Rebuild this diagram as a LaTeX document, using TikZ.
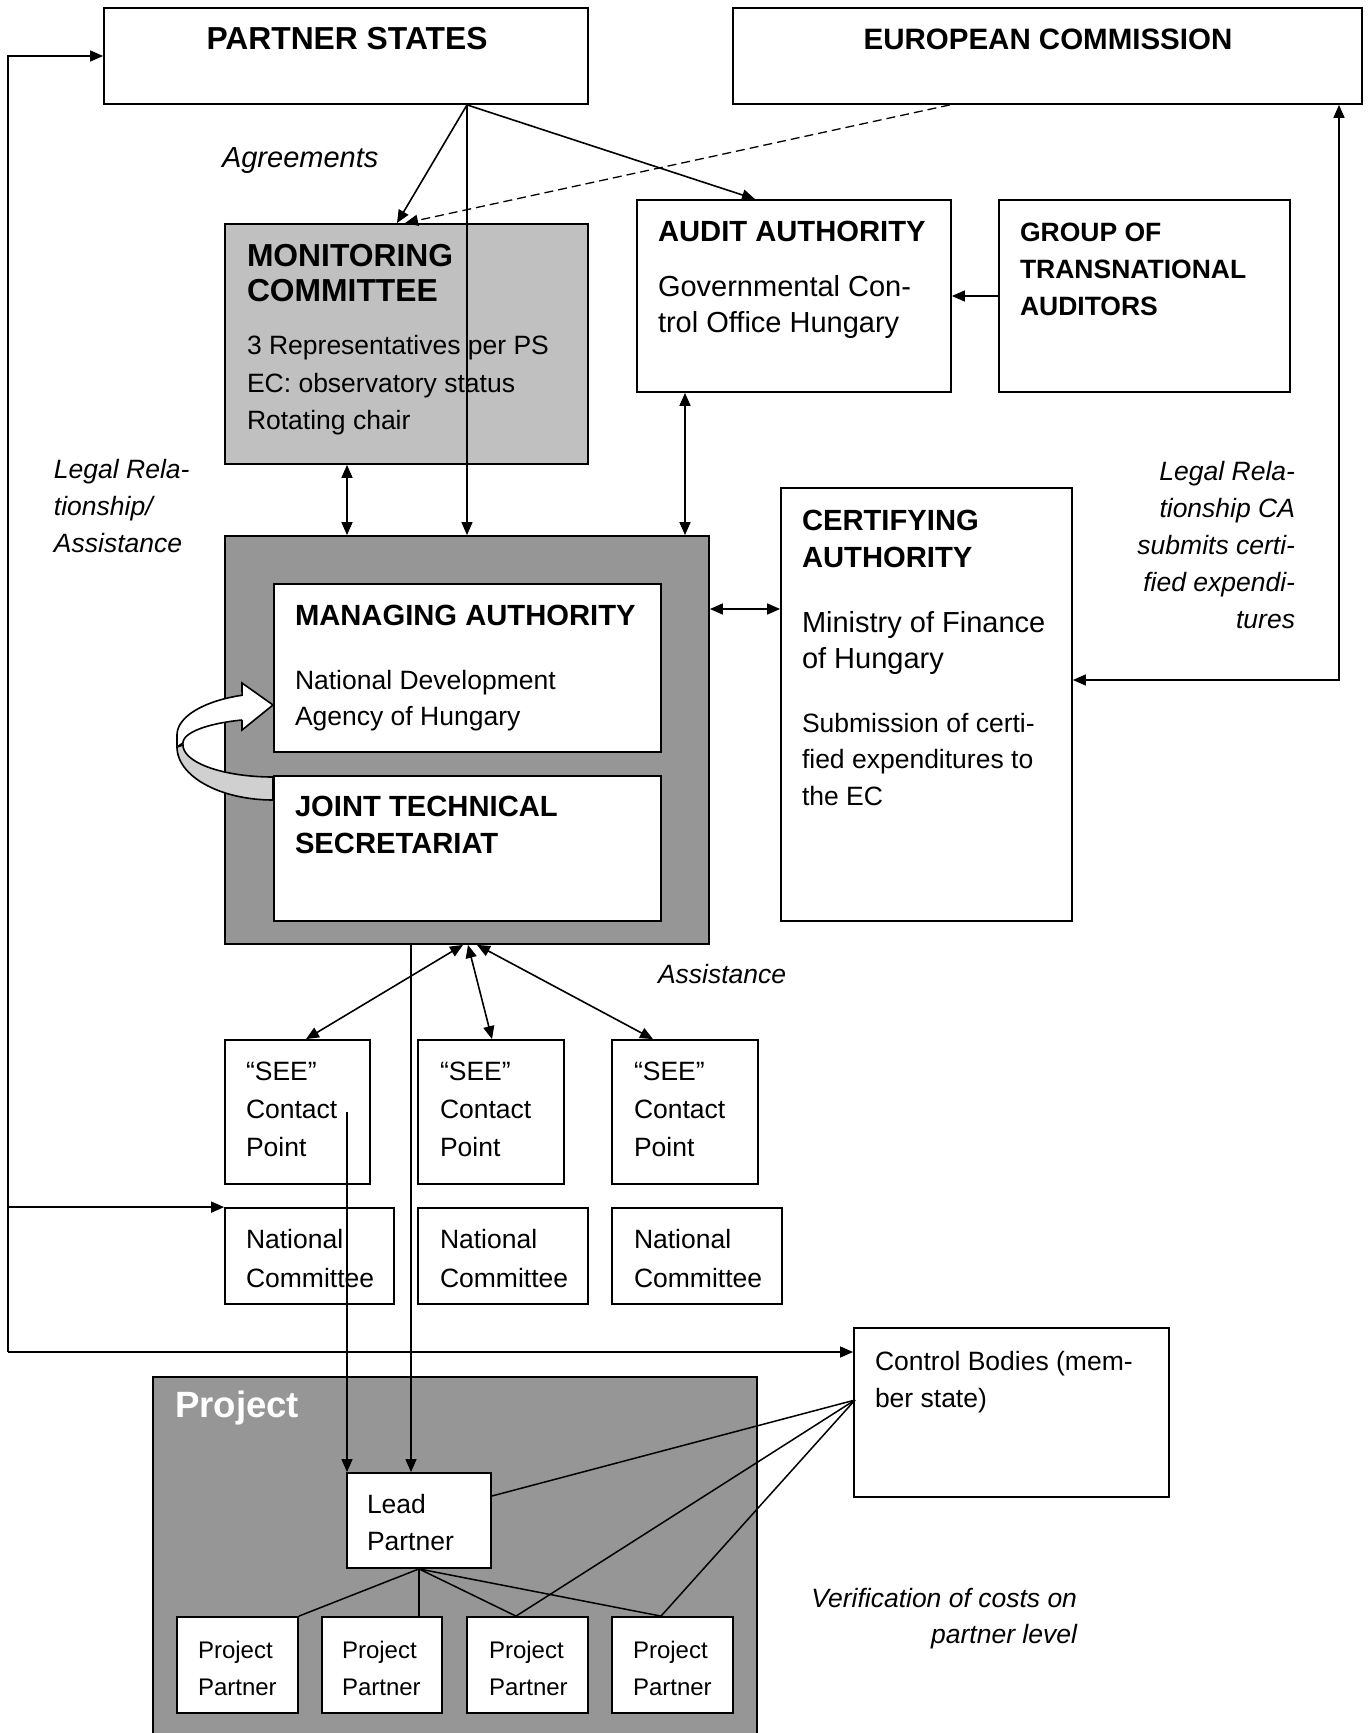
\documentclass[tikz,border=0pt]{standalone}
\usepackage{fontspec}
\setmainfont{Liberation Sans}
\usetikzlibrary{arrows.meta,fit,calc}
\definecolor{mcgray}{HTML}{C0C0C0}
\definecolor{dkgray}{HTML}{969696}
\definecolor{ltgray}{HTML}{D0D0D0}
\newcommand\fsz[2]{\fontsize{#1}{#2}\selectfont}
\newcommand\Lstack[1]{\begin{tabular}[t]{@{}l@{}}#1\end{tabular}}
\newcommand\Rstack[1]{\begin{tabular}[t]{@{}r@{}}#1\end{tabular}}
\begin{document}
\begin{tikzpicture}[x=0.5pt,y=-0.5pt,
  box/.style={draw=black, line width=0.9pt, fill=white, inner sep=0pt},
  txt/.style={anchor=base west, inner sep=0pt, outer sep=0pt},
  rtxt/.style={anchor=base east, inner sep=0pt, outer sep=0pt},
  ctxt/.style={anchor=base, inner sep=0pt, outer sep=0pt},
  bigtitle/.style={font=\fsz{15.9pt}{17.5pt}\bfseries},
  midtitle/.style={font=\fsz{14.6pt}{18.5pt}\bfseries},
  body/.style={font=\fsz{13.25pt}{18.5pt}},
  ital/.style={font=\fsz{13.25pt}{18.5pt}\itshape},
  tipk/.tip={Triangle[length=6.5pt,width=5.5pt]},
  arr/.style={line width=0.8pt, -tipk},
  darr/.style={line width=0.8pt, tipk-tipk},
  thinarr/.style={line width=0.6pt, -tipk},
  conn/.style={line width=0.75pt}]
\useasboundingbox (0,0) rectangle (1369,1733);
\clip (0,0) rectangle (1369,1733);
\fill[white] (0,0) rectangle (1369,1733);

% ---------- boxes ----------
\node (ps) [box, fit={(104,8) (588,104)}] {};
\node (ec) [box, fit={(733,8) (1362,104)}] {};
\node (mc) [box, fill=mcgray, fit={(225,224) (588,464)}] {};
\node (aa) [box, fit={(637,200) (951,392)}] {};
\node (gta) [box, fit={(999,200) (1290,392)}] {};
\node (ca) [box, fit={(781,488) (1072,921)}] {};
\node (outer) [box, fill=dkgray, fit={(225,536) (709,944)}] {};
\node (ma) [box, fit={(274,584) (661,752)}] {};
\node (jts) [box, fit={(274,776) (661,921)}] {};
\node (cp1) [box, fit={(225,1040) (370,1184)}] {};
\node (cp2) [box, fit={(418,1040) (564,1184)}] {};
\node (cp3) [box, fit={(612,1040) (758,1184)}] {};
\node (nc1) [box, fit={(225,1208) (394,1304)}] {};
\node (nc2) [box, fit={(418,1208) (588,1304)}] {};
\node (nc3) [box, fit={(612,1208) (782,1304)}] {};
\node (cb) [box, fit={(854,1328) (1169,1497)}] {};
\node (proj) [box, fill=dkgray, fit={(153,1377) (757,1760)}] {};
\node (lp) [box, fit={(347,1473) (491,1568)}] {};
\node (pp1) [box, fit={(177,1617) (298,1713)}] {};
\node (pp2) [box, fit={(322,1617) (442,1713)}] {};
\node (pp3) [box, fit={(467,1617) (588,1713)}] {};
\node (pp4) [box, fit={(612,1617) (733,1713)}] {};

% ---------- curved arrow (JTS -> MA) ----------
\draw[line width=0.8pt, fill=white]
  plot[domain=180:251.2, samples=30, smooth] ({273+96*cos(\x)},{735+42*sin(\x)})
  -- (242,683) -- (273,705) -- (242,730) -- (242,720)
  -- plot[domain=249.9:180, samples=30, smooth] ({273+90*cos(\x)},{743+24.5*sin(\x)})
  -- (177,747) -- cycle;
\draw[line width=0.8pt, fill=ltgray]
  plot[domain=180:90, samples=30, smooth] ({273+96*cos(\x)},{747+53*sin(\x)})
  -- (273,777)
  -- plot[domain=90:180, samples=30, smooth] ({273+90*cos(\x)},{745+32*sin(\x)})
  -- cycle;

% ---------- texts ----------
\node (pst) [ctxt, bigtitle] at (347,50) {PARTNER STATES};
\node (ect) [ctxt, font=\fsz{14.75pt}{18pt}\bfseries] at (1048,50) {EUROPEAN COMMISSION};
\node (agr) [txt, font=\fsz{14.5pt}{18pt}\itshape] at (222,168) {Agreements};
\node (mct) [txt, bigtitle] at (247,267) {\Lstack{MONITORING\\COMMITTEE}};
\node (mcb) [txt, font=\fsz{13.25pt}{18.75pt}] at (247,355) {\Lstack{3 Representatives per PS\\EC: observatory status\\Rotating chair}};
\node (aat) [txt, midtitle] at (658,242) {AUDIT AUTHORITY};
\node (aab) [txt, font=\fsz{14.5pt}{18pt}] at (658,297) {\Lstack{Governmental Con-\\trol Office Hungary}};
\node (gtat) [txt, font=\fsz{13.25pt}{18.5pt}\bfseries] at (1020,242) {\Lstack{GROUP OF\\TRANSNATIONAL\\AUDITORS}};
\node (leftlab) [txt, ital] at (54,478) {\Lstack{Legal Rela-\\tionship/\\Assistance}};
\node (rightlab) [rtxt, ital] at (1295,480) {\Rstack{Legal Rela-\\tionship CA\\submits certi-\\fied expendi-\\tures}};
\node (mat) [txt, midtitle] at (295,625) {MANAGING AUTHORITY};
\node (mab) [txt, font=\fsz{13.25pt}{18pt}] at (295,689) {\Lstack{National Development\\Agency of Hungary}};
\node (jtst) [txt, midtitle] at (295,816) {\Lstack{JOINT TECHNICAL\\SECRETARIAT}};
\node (cat) [txt, midtitle] at (802,530) {\Lstack{CERTIFYING\\AUTHORITY}};
\node (cab) [txt, font=\fsz{14.5pt}{18pt}] at (802,632) {\Lstack{Ministry of Finance\\of Hungary}};
\node (cac) [txt, font=\fsz{13.25pt}{18.25pt}] at (802,732) {\Lstack{Submission of certi-\\fied expenditures to\\the EC}};
\node (asst) [txt, ital] at (658,983) {Assistance};
\node (cp1t) [txt, font=\fsz{13.25pt}{19pt}] at (246,1080) {\Lstack{“SEE”\\Contact\\Point}};
\node (cp2t) [txt, font=\fsz{13.25pt}{19pt}] at (440,1080) {\Lstack{“SEE”\\Contact\\Point}};
\node (cp3t) [txt, font=\fsz{13.25pt}{19pt}] at (634,1080) {\Lstack{“SEE”\\Contact\\Point}};
\node (nc1t) [txt, font=\fsz{13.25pt}{19.5pt}] at (246,1248) {\Lstack{National\\Committee}};
\node (nc2t) [txt, font=\fsz{13.25pt}{19.5pt}] at (440,1248) {\Lstack{National\\Committee}};
\node (nc3t) [txt, font=\fsz{13.25pt}{19.5pt}] at (634,1248) {\Lstack{National\\Committee}};
\node (cbt) [txt, body] at (875,1370) {\Lstack{Control Bodies (mem-\\ber state)}};
\node (projt) [txt, text=white, font=\fsz{18.3pt}{20pt}\bfseries] at (175,1417) {Project};
\node (lpt) [txt, body] at (367,1513) {\Lstack{Lead\\Partner}};
\node (pp1t) [txt, font=\fsz{12pt}{18.5pt}] at (198,1658) {\Lstack{Project\\Partner}};
\node (pp2t) [txt, font=\fsz{12pt}{18.5pt}] at (342,1658) {\Lstack{Project\\Partner}};
\node (pp3t) [txt, font=\fsz{12pt}{18.5pt}] at (489,1658) {\Lstack{Project\\Partner}};
\node (pp4t) [txt, font=\fsz{12pt}{18.5pt}] at (633,1658) {\Lstack{Project\\Partner}};
\node (vert) [rtxt, font=\fsz{13.25pt}{18pt}\itshape] at (1077,1607) {\Rstack{Verification of costs on\\partner level}};

% ---------- connection points ----------
\coordinate (psA) at (467,0 |- ps.south);
\coordinate (lbot) at (8,1352);
\coordinate (cbP) at (855,1400);
\coordinate (cpA) at (347,1112);

% ---------- connectors ----------
\draw[arr] (psA) -- (397,0 |- mc.north);
\draw[thinarr] (psA) -- (467,0 |- outer.north);
\draw[arr] (psA) -- (755,0 |- aa.north);
\draw[line width=0.65pt, dash pattern=on 4.5pt off 2.5pt, -tipk] (950,0 |- ec.south) -- (405,0 |- mc.north);
\draw[arr] (gta.west) -- (aa.east);
\draw[darr] (347,0 |- mc.south) -- (347,0 |- outer.north);
\draw[darr] (685,0 |- aa.south) -- (685,0 |- outer.north);
\draw[darr] (outer.east |- 0,609) -- (ca.west |- 0,609);
\draw[darr] (1339,0 |- ec.south) -- (1339,680) -- (ca.east |- 0,680);
\draw[arr] (lbot) -- (8,0 |- ps.west) -- (ps.west);
\draw[arr] (8,0 |- nc1.north) -- (nc1.north west);
\draw[arr] (lbot) -- (cb.west |- lbot);
\draw[darr] (463,0 |- outer.south) -- (306,0 |- cp1.north);
\draw[darr] (468,0 |- outer.south) -- (492,0 |- cp2.north);
\draw[darr] (477,0 |- outer.south) -- (653,0 |- cp3.north);
\draw[thinarr] (cpA) -- (347,0 |- lp.north);
\draw[thinarr] (411,0 |- outer.south) -- (411,0 |- lp.north);
\draw[conn] (lp.south) -- (pp1.north east);
\draw[conn] (lp.south) -- (419,0 |- pp2.north);
\draw[conn] (lp.south) -- (516,0 |- pp3.north);
\draw[conn] (lp.south) -- (661,0 |- pp4.north);
\draw[conn] (cbP) -- (lp.east |- 0,1496);
\draw[conn] (cbP) -- (516,0 |- pp3.north);
\draw[conn] (cbP) -- (661,0 |- pp4.north);
\end{tikzpicture}
\end{document}
